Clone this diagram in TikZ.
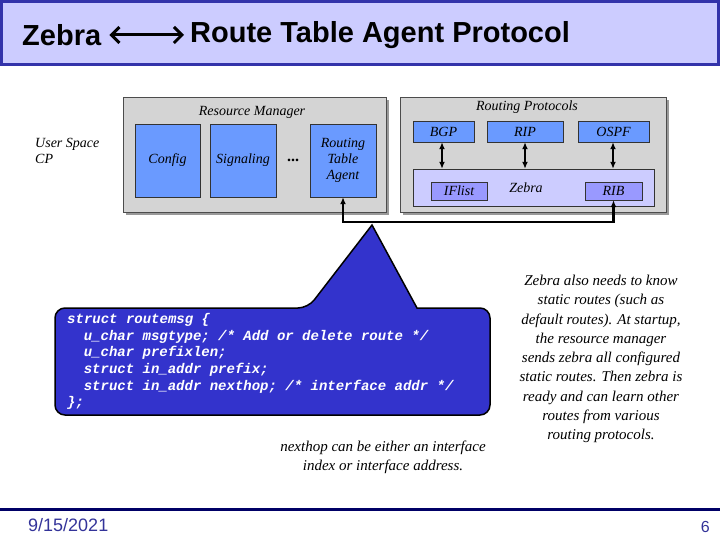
\documentclass[tikz,border=0pt]{standalone}
\usepackage{fontspec}
\setmainfont{Liberation Serif}
\newfontfamily\sansf{Liberation Sans}
\newfontfamily\codef{Liberation Mono}
\usetikzlibrary{shadows,arrows.meta}
\definecolor{titlebg}{HTML}{CCCCFF}
\definecolor{titlebd}{HTML}{3333AA}
\definecolor{boxgrey}{HTML}{D4D4D4}
\definecolor{boxblue}{HTML}{6A9AFF}
\definecolor{zebrabg}{HTML}{CCCCFF}
\definecolor{ribbg}{HTML}{9999FF}
\definecolor{callout}{HTML}{3333CC}
\definecolor{navy}{HTML}{000066}
\definecolor{foot}{HTML}{333399}
\tikzset{
  shad/.style={drop shadow={shadow xshift=3pt,shadow yshift=-3pt,fill=gray!80,opacity=1}},
  group/.style={draw=gray!60!black,fill=boxgrey,shad,inner sep=0pt,minimum height=115pt},
  blk/.style={draw=gray!40!black,fill=boxblue,inner sep=0pt,align=center,font=\itshape\fontsize{14}{16}\selectfont},
  sub/.style={draw=gray!40!black,fill=ribbg,inner sep=0pt,minimum width=57pt,minimum height=18pt,font=\itshape\fontsize{14}{16}\selectfont},
  lbl/.style={font=\itshape\fontsize{14}{16}\selectfont,inner sep=0pt},
  bi/.style={{Latex[length=7pt,width=6pt]}-{Latex[length=7pt,width=6pt]},line width=1.4pt},
  note/.style={font=\itshape\fontsize{15}{19.3}\selectfont,align=center,inner sep=0pt},
  ttl/.style={anchor=west,inner sep=0pt,font=\sansf\bfseries\fontsize{29}{32}\selectfont}
}
\begin{document}
\begin{tikzpicture}[x=1pt,y=-1pt]
\useasboundingbox (0,0) rectangle (720,540);
% title bar
\draw[titlebd,line width=3pt,fill=titlebg] (1.5,1.5) rectangle (718.5,65);
\node[ttl] (t1) at (22,35) {Zebra};
\node[ttl] (t2) at (190,35) {Route Table Agent Protocol};
\draw[{Straight Barb[length=8pt,width=16pt,line width=3pt]}-{Straight Barb[length=8pt,width=16pt,line width=3pt]},line width=3pt]
  ([xshift=8pt]t1.east) -- ([xshift=-6pt]t2.west);
% user space
\node[lbl,anchor=north west,align=left] (us) at (35,138) {User Space\\CP};
% resource manager
\node[group,minimum width=263pt] (rm) at (254.5,154.5) {};
\node[lbl] (rmt) at (252,112) {Resource Manager};
\node[blk,minimum width=65pt,minimum height=73pt] (cfg) at (167.5,160.5) {Config};
\node[blk,minimum width=66pt,minimum height=73pt] (sig) at (243,160.5) {Signaling};
\node[inner sep=0pt,font=\bfseries\fontsize{16}{16}\selectfont] (dots) at (293,160) {...};
\node[blk,minimum width=66pt,minimum height=73pt] (rta) at (343,160.5) {Routing\\Table\\Agent};
% routing protocols
\node[group,minimum width=266pt] (rp) at (533,154.5) {};
\node[lbl] (rpt) at (527,107) {Routing Protocols};
\node[blk,minimum width=61pt,minimum height=21pt] (bgp) at (443.5,131.5) {BGP};
\node[blk,minimum width=76pt,minimum height=21pt] (rip) at (525,131.5) {RIP};
\node[blk,minimum width=71pt,minimum height=21pt] (ospf) at (613.5,131.5) {OSPF};
\node[draw=gray!40!black,fill=zebrabg,inner sep=0pt,minimum width=241pt,minimum height=37pt] (zebra) at (533.5,187.5) {};
\node[lbl] (zt) at (526,188) {Zebra};
\node[sub,minimum width=56pt] (ifl) at (459,191) {IFlist};
\node[sub] (rib) at (613.5,191) {RIB};
\draw[bi] (bgp.south -| 442,0) -- (zebra.north -| 442,0);
\draw[bi] (rip.south) -- (rip.south |- zebra.north);
\draw[bi] (ospf.south -| 613,0) -- (zebra.north -| 613,0);
% bus between agent and RIB
\coordinate (bus) at (613.5,222);
\draw[bi,line width=2.4pt] (rta.south) |- (bus) -- (rib.south);
% callout
\draw[line width=1.5pt,fill=callout,rounded corners=10pt]
  (55,308) -- (308,308) [sharp corners] -- (372,225) -- (417,308) [rounded corners=10pt]
  -- (490,308) -- (490,415) -- (55,415) -- cycle;
\node[anchor=north west,inner sep=0pt,align=left,text=white,
  font=\codef\bfseries\itshape\fontsize{14}{16.7}\selectfont] (code) at (67,313)
  {struct routemsg \{\\
  \hspace*{16.6pt}u\_char msgtype; /* Add or delete route */\\
  \hspace*{16.6pt}u\_char prefixlen;\\
  \hspace*{16.6pt}struct in\_addr prefix;\\
  \hspace*{16.6pt}struct in\_addr nexthop; /* interface addr */\\
  \};};
\node[note] (nh) at (383,457) {nexthop can be either an interface\\index or interface address.};
\node[note] (zn) at (601,359) {Zebra also needs to know\\static routes (such as\\default routes). At startup,\\the resource manager\\sends zebra all configured\\static routes. Then zebra is\\ready and can learn other\\routes from various\\routing protocols.};
% footer
\draw[navy,line width=3pt] (0,509) -- (720,509);
\node[anchor=west,inner sep=0pt,text=foot,font=\sansf\fontsize{18}{20}\selectfont] (date) at (28,525) {9/15/2021};
\node[anchor=east,inner sep=0pt,text=foot,font=\sansf\fontsize{16}{18}\selectfont] (pg) at (710,527) {6};
\end{tikzpicture}
\end{document}
